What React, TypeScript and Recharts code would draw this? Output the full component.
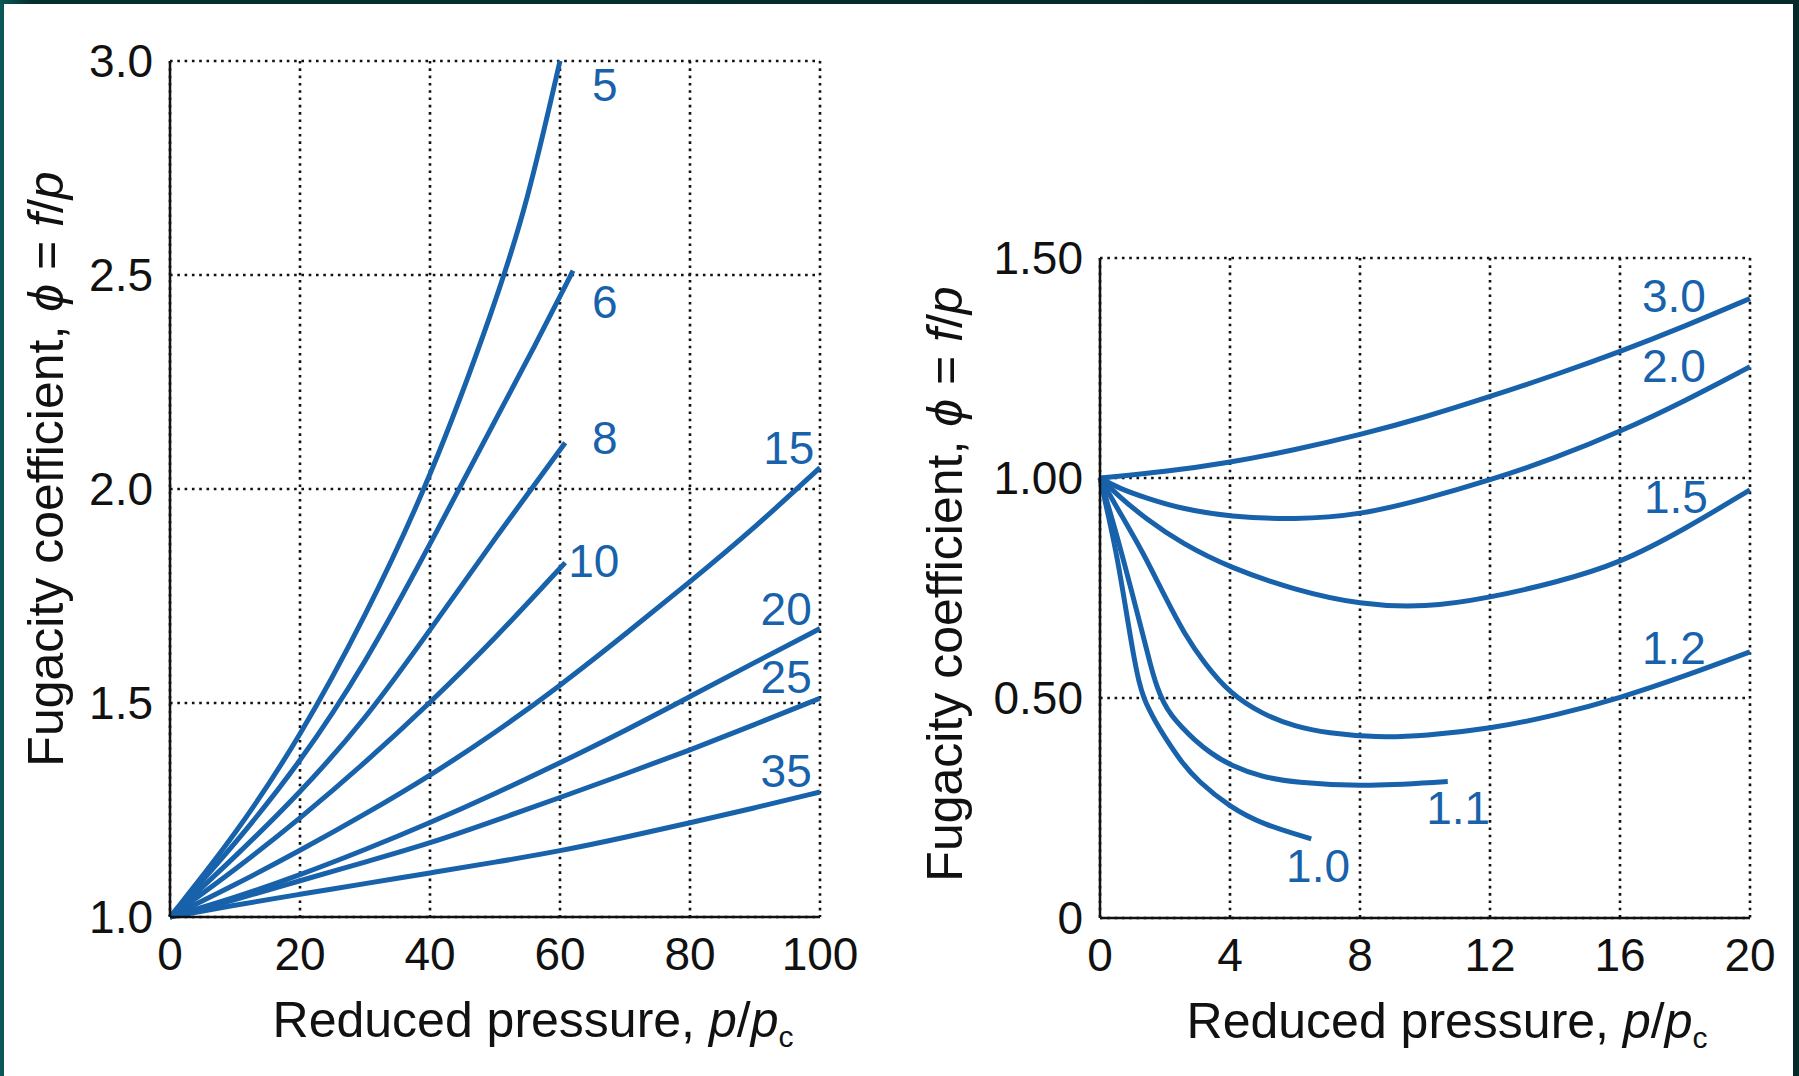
import { LineChart, Line, XAxis, YAxis, CartesianGrid, ReferenceDot } from 'recharts';

type Pt = [number, number];

// left panel: high reduced temperatures, p/pc 0..100
const HIGH_X_TICKS = [0, 20, 40, 60, 80, 100];
const HIGH_Y_TICKS = [1.0, 1.5, 2.0, 2.5, 3.0];

const tr5: Pt[] = [[0, 1], [10, 1.19], [20, 1.42], [30, 1.70], [40, 2.02], [50, 2.43], [55, 2.67], [60, 3.0]];
const tr6: Pt[] = [[0, 1], [10, 1.17], [20, 1.36], [30, 1.59], [40, 1.87], [50, 2.16], [56, 2.33], [62, 2.51]];
const tr8: Pt[] = [[0, 1], [10, 1.14], [20, 1.29], [30, 1.46], [40, 1.67], [50, 1.885], [60.8, 2.108]];
const tr10: Pt[] = [[0, 1], [10, 1.11], [20, 1.23], [30, 1.36], [40, 1.5], [50, 1.65], [60.8, 1.828]];
const tr15: Pt[] = [[0, 1], [10, 1.075], [20, 1.155], [30, 1.24], [40, 1.33], [50, 1.43], [60, 1.54], [70, 1.66], [80, 1.783], [90, 1.91], [100, 2.05]];
const tr20: Pt[] = [[0, 1], [10, 1.045], [20, 1.098], [30, 1.157], [40, 1.22], [50, 1.288], [60, 1.36], [70, 1.435], [80, 1.515], [90, 1.595], [100, 1.674]];
const tr25: Pt[] = [[0, 1], [10, 1.04], [20, 1.085], [30, 1.128], [40, 1.172], [50, 1.225], [60, 1.279], [70, 1.334], [80, 1.39], [90, 1.45], [100, 1.511]];
const tr35: Pt[] = [[0, 1], [10, 1.028], [20, 1.053], [30, 1.078], [40, 1.103], [50, 1.128], [60, 1.154], [70, 1.186], [80, 1.22], [90, 1.255], [100, 1.292]];

const HIGH_CURVES = [tr5, tr6, tr8, tr10, tr15, tr20, tr25, tr35];
const HIGH_LABELS = ['5', '6', '8', '10', '15', '20', '25', '35'];
const HIGH_LABEL_POS: Pt[] = [[66.9, 2.944], [66.9, 2.437], [66.9, 2.121], [65.2, 1.832], [95.2, 2.096], [94.8, 1.72], [94.8, 1.561], [94.8, 1.341]];

// right panel: low reduced temperatures, p/pc 0..20
const LOW_X_TICKS = [0, 4, 8, 12, 16, 20];
const LOW_Y_TICKS = [0, 0.5, 1.0, 1.5];

const tr30: Pt[] = [[0, 1], [2, 1.014], [4, 1.035], [6, 1.064], [8, 1.098], [10, 1.138], [12, 1.185], [14, 1.234], [16, 1.287], [18, 1.345], [20, 1.408]];
const tr20b: Pt[] = [[0, 1], [0.6, 0.976], [1.4, 0.955], [2.5, 0.93], [4, 0.912], [6, 0.905], [8, 0.916], [10, 0.952], [12, 0.995], [14, 1.045], [16, 1.105], [18, 1.175], [20, 1.253]];
const tr15b: Pt[] = [[0, 1], [0.6, 0.957], [1.4, 0.908], [2.5, 0.852], [4, 0.796], [6, 0.745], [8, 0.712], [10, 0.705], [12, 0.728], [14, 0.762], [16, 0.806], [18, 0.884], [20, 0.973]];
const tr12: Pt[] = [[0, 1], [0.7, 0.91], [1.33, 0.83], [2, 0.73], [2.6, 0.645], [3.2, 0.58], [4, 0.51], [5, 0.463], [6, 0.435], [7, 0.42], [8.5, 0.41], [10, 0.414], [12, 0.43], [14, 0.46], [16, 0.5], [18, 0.55], [20, 0.605]];
const tr11: Pt[] = [[0, 1], [0.4, 0.9], [0.7, 0.82], [1.0, 0.735], [1.3, 0.65], [1.55, 0.575], [1.75, 0.525], [1.95, 0.49], [2.2, 0.46], [2.5, 0.435], [2.9, 0.405], [3.4, 0.375], [4, 0.347], [5, 0.32], [6, 0.308], [8, 0.298], [10.7, 0.31]];
const tr10b: Pt[] = [[0, 1], [0.3, 0.9], [0.5, 0.83], [0.7, 0.745], [0.9, 0.655], [1.05, 0.59], [1.2, 0.535], [1.35, 0.5], [1.5, 0.475], [1.7, 0.447], [2, 0.41], [2.5, 0.355], [3, 0.312], [4, 0.252], [5, 0.213], [6.5, 0.18]];

const LOW_CURVES = [tr30, tr20b, tr15b, tr12, tr11, tr10b];
const LOW_LABELS = ['3.0', '2.0', '1.5', '1.2', '1.1', '1.0'];
const LOW_LABEL_POS: Pt[] = [[17.66, 1.414], [17.66, 1.255], [17.72, 0.957], [17.66, 0.614], [11.02, 0.25], [6.71, 0.118]];

const BLUE = '#1862ab';
const INK = '#111';
const FONT = '"Liberation Sans", Arial, Helvetica, sans-serif';
const FS = 46;
const TITLE_FS = 50;

const toRows = (pts: Pt[]) => pts.map(([x, y]) => ({ x, y }));

const yTitle = (gap: number, lift: number) => (props: any) => {
  const { x, y, width, height } = props.viewBox;
  const cx = x + width - gap;
  const cy = y + height / 2 - lift;
  return (
    <text x={cx} y={cy} transform={`rotate(-90 ${cx} ${cy})`} textAnchor="middle" fontSize={TITLE_FS} fill={INK} fontFamily={FONT}>
      Fugacity coefficient, <tspan fontStyle="italic">ϕ</tspan> = <tspan fontStyle="italic">f</tspan>/<tspan fontStyle="italic">p</tspan>
    </text>
  );
};

const xTitle = (shift: number) => (props: any) => {
  const { x, y, width } = props.viewBox;
  const cx = x + width / 2 + shift;
  return (
    <text x={cx} y={y + 120} textAnchor="middle" fontSize={TITLE_FS} fill={INK} fontFamily={FONT}>
      Reduced pressure, <tspan fontStyle="italic">p</tspan>/<tspan fontStyle="italic">p</tspan>
      <tspan fontSize={30} dy={10}>c</tspan>
    </text>
  );
};

const tickStyle = { fontSize: FS, fill: INK, fontFamily: FONT };
const axisStyle = { stroke: INK, strokeWidth: 2.5 };

interface PanelProps {
  curves: Pt[][];
  labels: string[];
  labelPos: Pt[];
  xTicks: number[];
  yTicks: number[];
  yFormat: (v: number) => string;
  width: number;
  margin: { top: number; right: number; bottom: number; left: number };
  yAxisWidth: number;
  yTitleGap: number;
  yTitleLift: number;
  xTitleShift: number;
}

const Panel = ({ curves, labels, labelPos, xTicks, yTicks, yFormat, width, margin, yAxisWidth, yTitleGap, yTitleLift, xTitleShift }: PanelProps) => (
  <LineChart width={width} height={1076} margin={margin} style={{ fontFamily: FONT }}>
    <CartesianGrid stroke={INK} strokeWidth={2.6} strokeDasharray="2.6 4.7" />
    <XAxis
      type="number"
      dataKey="x"
      domain={[xTicks[0], xTicks[xTicks.length - 1]]}
      ticks={xTicks}
      interval={0}
      tick={tickStyle}
      tickLine={false}
      tickSize={6}
      tickMargin={14}
      axisLine={axisStyle}
      height={120}
      label={xTitle(xTitleShift)}
    />
    <YAxis
      type="number"
      dataKey="y"
      domain={[yTicks[0], yTicks[yTicks.length - 1]]}
      ticks={yTicks}
      interval={0}
      tickFormatter={yFormat}
      tick={tickStyle}
      tickLine={false}
      tickSize={6}
      tickMargin={11}
      axisLine={axisStyle}
      width={yAxisWidth}
      label={yTitle(yTitleGap, yTitleLift)}
    />
    {curves.map((pts, i) => (
      <Line
        key={labels[i]}
        data={toRows(pts)}
        dataKey="y"
        type="basis"
        stroke={BLUE}
        strokeWidth={5}
        dot={false}
        activeDot={false}
        isAnimationActive={false}
      />
    ))}
    {labelPos.map(([x, y], i) => (
      <ReferenceDot
        key={'l' + labels[i]}
        x={x}
        y={y}
        r={0}
        fill="none"
        stroke="none"
        label={{ value: labels[i], position: 'center', fill: BLUE, fontSize: FS, fontFamily: FONT }}
      />
    ))}
  </LineChart>
);

const App = () => (
  <div
    style={{
      position: 'absolute', left: 0, top: 0, width: 1799, height: 1076,
      background: 'linear-gradient(90deg, #0b5a5a 0px, #05302f 30px, #04292a 100%)',
    }}
  >
    <div style={{ position: 'absolute', left: 4, top: 4, width: 1789, height: 1072, background: '#fff' }} />
    <div style={{ position: 'absolute', left: 0, top: 0 }}>
      <Panel
        curves={HIGH_CURVES}
        labels={HIGH_LABELS}
        labelPos={HIGH_LABEL_POS}
        xTicks={HIGH_X_TICKS}
        yTicks={HIGH_Y_TICKS}
        yFormat={(v) => v.toFixed(1)}
        width={900}
        margin={{ top: 61, right: 80, bottom: 39, left: 50 }}
        yAxisWidth={120}
        yTitleGap={107}
        yTitleLift={20}
        xTitleShift={38}
      />
    </div>
    <div style={{ position: 'absolute', left: 900, top: 0 }}>
      <Panel
        curves={LOW_CURVES}
        labels={LOW_LABELS}
        labelPos={LOW_LABEL_POS}
        xTicks={LOW_X_TICKS}
        yTicks={LOW_Y_TICKS}
        yFormat={(v) => (v === 0 ? '0' : v.toFixed(2))}
        width={899}
        margin={{ top: 258, right: 49, bottom: 38, left: 50 }}
        yAxisWidth={150}
        yTitleGap={138}
        yTitleLift={4}
        xTitleShift={22}
      />
    </div>
  </div>
);

export default App;
